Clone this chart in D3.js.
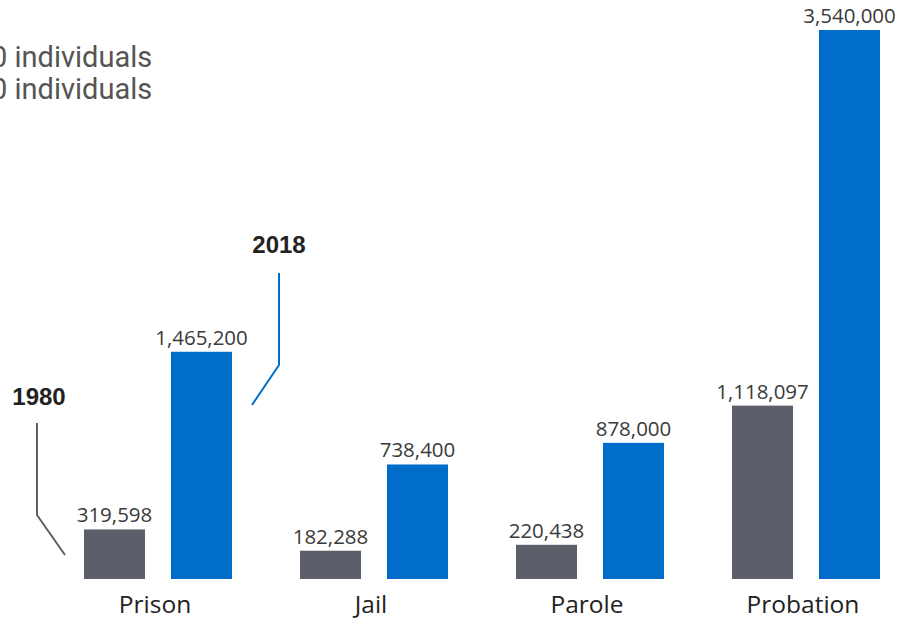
<!DOCTYPE html>
<html>
<head>
<meta charset="utf-8">
<script src="https://cdn.jsdelivr.net/npm/d3@7"></script>
<style>
  html, body { margin: 0; padding: 0; background: #ffffff; overflow: hidden; }
  svg { display: block; }
</style>
</head>
<body>
<svg id="chart" width="904" height="618"></svg>
<script>
// Correctional population by supervision type, 1980 vs 2018
const categories = ["Prison", "Jail", "Parole", "Probation"];
const years = ["1980", "2018"];
const values1980 = [319598, 182288, 220438, 1118097];
const values2018 = [1465200, 738400, 878000, 3540000];
const noteLines = ["0 individuals", "0 individuals"];

const colors = { "1980": "#5c5e69", "2018": "#006dcb" };
const fmt = d3.format(",");

const svg = d3.select("#chart");
const baseY = 579;

const rows = categories.map((c, i) => ({
  category: c,
  bars: [
    { year: "1980", value: values1980[i] },
    { year: "2018", value: values2018[i] }
  ]
}));

const x0 = d3.scaleBand().domain(categories).range([50, 914]).padding(0);
const x1 = d3.scaleBand().domain(years).range([34, 182])
  .paddingInner(26 / 87).paddingOuter(0);
const y = d3.scaleLinear()
  .domain([0, d3.max(values2018)])
  .range([baseY, 30]);

// Notes at top-left
svg.append("g")
  .selectAll("text")
  .data(noteLines)
  .join("text")
  .attr("x", -9)
  .attr("y", (d, i) => 67 + i * 32)
  .attr("font-family", "Roboto, sans-serif")
  .attr("font-size", 29)
  .attr("fill", "#555555")
  .text(d => d);

const groups = svg.append("g")
  .selectAll("g")
  .data(rows)
  .join("g")
  .attr("transform", d => `translate(${x0(d.category)},0)`);

groups.selectAll("rect")
  .data(d => d.bars)
  .join("rect")
  .attr("x", d => x1(d.year))
  .attr("y", d => y(d.value))
  .attr("width", x1.bandwidth())
  .attr("height", d => baseY - y(d.value))
  .attr("fill", d => colors[d.year]);

groups.selectAll("text.value")
  .data(d => d.bars)
  .join("text")
  .attr("class", "value")
  .attr("x", d => x1(d.year) + x1.bandwidth() / 2)
  .attr("y", d => y(d.value) - 7)
  .attr("text-anchor", "middle")
  .attr("font-family", "'Open Sans', sans-serif")
  .attr("font-size", 20.5)
  .attr("fill", "#3a3a3a")
  .text(d => fmt(d.value));

groups.append("text")
  .attr("x", x0.bandwidth() / 2 - 3)
  .attr("y", 613)
  .attr("text-anchor", "middle")
  .attr("font-family", "'Open Sans', sans-serif")
  .attr("font-size", 24.5)
  .attr("fill", "#222222")
  .text(d => d.category);

// Year callouts pointing at the first group's bars
const firstX = x0(categories[0]);
const cx1980 = firstX + x1("1980");
const cx2018 = firstX + x1("2018") + x1.bandwidth();

svg.append("text")
  .attr("x", 39).attr("y", 405)
  .attr("text-anchor", "middle")
  .attr("font-family", "'Liberation Sans', Arial, sans-serif")
  .attr("font-weight", "bold")
  .attr("font-size", 24)
  .attr("fill", "#222222")
  .text("1980");

svg.append("path")
  .attr("d", d3.line()([[37, 423], [37, 515], [cx1980 - 19, 555]]))
  .attr("fill", "none")
  .attr("stroke", colors["1980"])
  .attr("stroke-width", 2);

svg.append("text")
  .attr("x", 279).attr("y", 253)
  .attr("text-anchor", "middle")
  .attr("font-family", "'Liberation Sans', Arial, sans-serif")
  .attr("font-weight", "bold")
  .attr("font-size", 24)
  .attr("fill", "#222222")
  .text("2018");

svg.append("path")
  .attr("d", d3.line()([[279, 273], [279, 365], [cx2018 + 20, 405]]))
  .attr("fill", "none")
  .attr("stroke", colors["2018"])
  .attr("stroke-width", 2);
</script>
</body>
</html>
